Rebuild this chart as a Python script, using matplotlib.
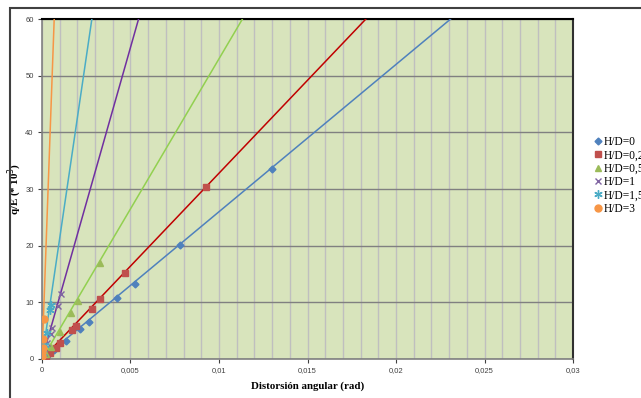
import numpy as np
import matplotlib.pyplot as plt
from matplotlib.patches import Rectangle

# datos
x_hd0 = [0.0003, 0.0007, 0.00134, 0.00215, 0.00264, 0.00425, 0.00524, 0.0078, 0.0130]
y_hd0 = [0.6, 1.5, 3.1, 5.3, 6.6, 10.8, 13.3, 20.1, 33.5]

x_hd025 = [0.0002, 0.00045, 0.00077, 0.00102, 0.00169, 0.00194, 0.00284, 0.00328, 0.00469, 0.00927]
y_hd025 = [0.4, 1.0, 1.9, 2.9, 5.2, 5.9, 8.9, 10.6, 15.2, 30.3]

x_hd05 = [0.0002, 0.0005, 0.00102, 0.00166, 0.00203, 0.00328]
y_hd05 = [0.8, 2.2, 4.8, 8.2, 10.2, 16.9]

x_hd1 = [0.0001, 0.0003, 0.00049, 0.00055, 0.0009, 0.00107]
y_hd1 = [1.0, 2.8, 4.5, 5.5, 9.3, 11.4]

x_hd15 = [0.00005, 0.00015, 0.00026, 0.00045, 0.00049]
y_hd15 = [1.0, 2.5, 4.6, 8.6, 9.5]

x_hd3 = [0.00001, 0.00002, 0.00003, 0.00004, 0.00013]
y_hd3 = [0.5, 1.2, 2.0, 3.5, 7.0]

# pendientes de las líneas de tendencia (q/E = m * distorsión)
pendientes = [2600, 3280, 5300, 11000, 21300, 87000]

etiquetas = ['H/D=0', 'H/D=0,25', 'H/D=0,5', 'H/D=1', 'H/D=1,5', 'H/D=3']
series_x = [x_hd0, x_hd025, x_hd05, x_hd1, x_hd15, x_hd3]
series_y = [y_hd0, y_hd025, y_hd05, y_hd1, y_hd15, y_hd3]
col_marker = ['#4F81BD', '#C0504D', '#9BBB59', '#8064A2', '#4BACC6', '#F79646']
col_linea = ['#4F81BD', '#C00000', '#92D050', '#7030A0', '#4BACC6', '#F79646']
marcadores = ['D', 's', '^', 'x', (6, 2, 0), 'o']
tamanos = [3.5, 5, 4.5, 5, 6, 5]

fig = plt.figure(figsize=(6.41, 3.98), dpi=100)
ax = fig.add_axes([0.0655, 0.098, 0.8285, 0.854])
ax.set_facecolor('#D8E4BC')

xx = np.linspace(0, 0.03, 400)
handles = []
for sx, sy, m, cm, cl, mk, ms, lab in zip(series_x, series_y, pendientes, col_marker,
                                          col_linea, marcadores, tamanos, etiquetas):
    ax.plot(xx, m * xx, color=cl, lw=1.1, zorder=3)
    h, = ax.plot(sx, sy, linestyle='none', marker=mk, color=cm, markersize=ms,
                 markeredgewidth=1.0, zorder=4, label=lab)
    handles.append(h)

ax.set_xlim(0, 0.03)
ax.set_ylim(0, 60)
ax.set_xticks([0, 0.005, 0.01, 0.015, 0.02, 0.025, 0.03])
ax.set_xticklabels(['0', '0,005', '0,01', '0,015', '0,02', '0,025', '0,03'])
ax.set_yticks(range(0, 61, 10))
ax.set_xticks(np.arange(0, 0.0301, 0.001), minor=True)
ax.tick_params(axis='both', which='major', labelsize=5.5, length=3, width=0.8,
               colors='#404040', pad=3)
ax.tick_params(axis='x', which='minor', length=0)
for lab in ax.get_xticklabels() + ax.get_yticklabels():
    lab.set_fontfamily('Liberation Sans')

ax.grid(True, axis='x', which='both', color='#BFBFBF', lw=1.0, zorder=1)
ax.grid(True, axis='y', which='major', color='#808080', lw=1.0, zorder=1)
ax.set_axisbelow(True)
for lado in ['left', 'bottom']:
    ax.spines[lado].set_color('#808080')
    ax.spines[lado].set_linewidth(1.2)
ax.spines['top'].set_color('#000000')
ax.spines['top'].set_linewidth(1.5)
ax.spines['right'].set_color('#303030')
ax.spines['right'].set_linewidth(1.5)

ax.set_xlabel('Distorsión angular (rad)', fontfamily='Liberation Serif',
              fontweight='bold', fontsize=7.8, labelpad=5)
ax.set_ylabel('q/E (* 10$^3$)', fontfamily='Liberation Serif',
              fontweight='bold', fontsize=7.8, labelpad=1)

leg = fig.legend(handles=handles, loc='upper left', bbox_to_anchor=(0.92, 0.67),
                 frameon=False, prop={'family': 'Liberation Serif', 'size': 8.3},
                 handlelength=0.6, handletextpad=0.2, labelspacing=0.12,
                 borderaxespad=0)

# marco exterior del gráfico
fig.patches.append(Rectangle((10 / 641, -0.05), 1.1, 1.05 - 8 / 398,
                             transform=fig.transFigure, fill=False,
                             edgecolor='#404040', lw=1.5, zorder=0))

fig.savefig('out.png', dpi=100)
